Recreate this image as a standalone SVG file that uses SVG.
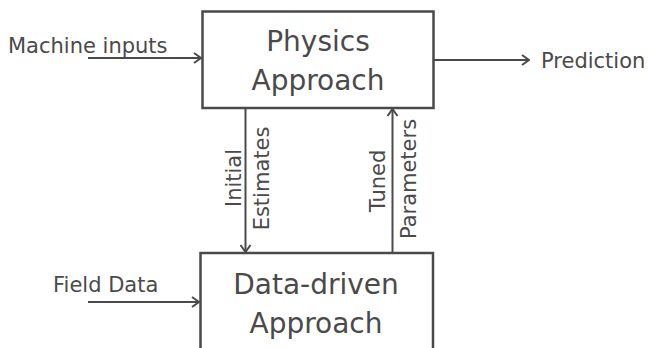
<svg xmlns="http://www.w3.org/2000/svg" width="649" height="348" viewBox="0 0 649 348">
<style>
.box{fill:#fff;stroke:#4a4a4a;stroke-width:2.5}
.t{font-family:"DejaVu Sans",sans-serif;fill:#4a4a4a}
.big{font-size:28px;text-anchor:middle}
.lbl{font-size:21px}
.v{font-size:21px;text-anchor:middle}
.c{stroke:#4a4a4a;stroke-width:2;fill:none}
</style>
<defs>
<marker id="ah" viewBox="0 0 10 12" refX="9" refY="6" markerWidth="10" markerHeight="12" markerUnits="userSpaceOnUse" orient="auto">
<path d="M2,1 L9,6 L2,11" fill="none" stroke="#4a4a4a" stroke-width="2"/>
</marker>
</defs>
<rect width="649" height="348" fill="#fff"/>
<g id="connectors">
<line class="c" x1="88" y1="58" x2="201" y2="58" marker-end="url(#ah)"/>
<line class="c" x1="434" y1="60" x2="529" y2="60" marker-end="url(#ah)"/>
<line class="c" x1="88" y1="302" x2="199" y2="302" marker-end="url(#ah)"/>
<line class="c" x1="245.5" y1="108" x2="245.5" y2="252" marker-end="url(#ah)"/>
<line class="c" x1="392.5" y1="253" x2="392.5" y2="109" marker-end="url(#ah)"/>
<g id="label-initial-estimates">
<text class="t v" transform="translate(241,178) rotate(-90)">Initial</text>
<text class="t v" transform="translate(269,178.5) rotate(-90)">Estimates</text>
</g>
<g id="label-tuned-parameters">
<text class="t v" transform="translate(385,181) rotate(-90)">Tuned</text>
<text class="t v" transform="translate(416,179) rotate(-90)">Parameters</text>
</g>
</g>
<g id="physics">
<rect class="box" x="202.5" y="11.5" width="231" height="96.5"/>
<text class="t big" x="318" y="51">Physics</text>
<text class="t big" x="318" y="90">Approach</text>
</g>
<g id="datadriven">
<rect class="box" x="200.5" y="253" width="232.5" height="120"/>
<text class="t big" x="316" y="294">Data-driven</text>
<text class="t big" x="316" y="333">Approach</text>
</g>
<g id="machine-inputs">
<text class="t lbl" x="8" y="53">Machine inputs</text>
</g>
<g id="prediction">
<text class="t lbl" x="541" y="68">Prediction</text>
</g>
<g id="field-data">
<text class="t lbl" x="53" y="292">Field Data</text>
</g>
</svg>
